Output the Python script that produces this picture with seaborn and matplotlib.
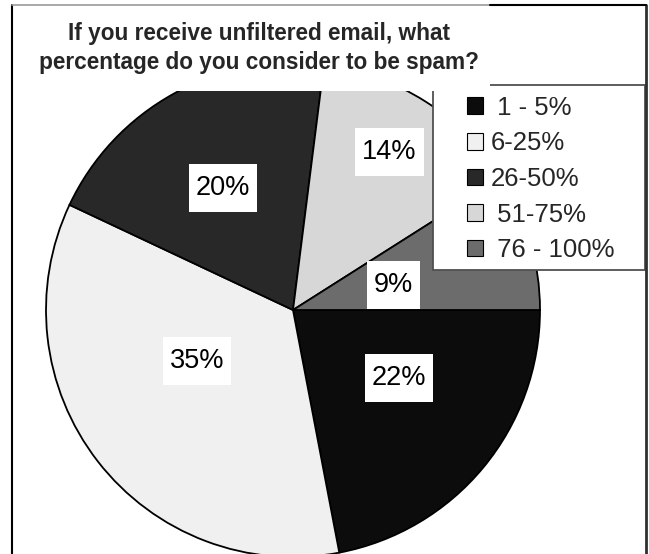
import matplotlib
matplotlib.use("Agg")
import matplotlib.pyplot as plt
from matplotlib.patches import Patch, Rectangle
from matplotlib.lines import Line2D
import numpy as np
import seaborn as sns

# Survey answers: share of unfiltered email considered spam
categories = [" 1 - 5%", "6-25%", "26-50%", " 51-75%", " 76 - 100%"]
shares = [22, 35, 20, 14, 9]
slice_colors = ["#0c0c0c", "#f0f0f0", "#282828", "#d7d7d7", "#6c6c6c"]
title = "If you receive unfiltered email, what\npercentage do you consider to be spam?"

# label placement (radius as fraction of pie radius, angular shift in degrees)
label_radius = [0.51, 0.44, 0.57, 0.75, 0.42]
label_shift = [7.0, -10.0, 1.0, 1.0, -2.5]

sns.set_theme(style="white")
plt.rcParams["font.family"] = ["Liberation Sans", "DejaVu Sans"]

W, H = 649, 554
fig = plt.figure(figsize=(W / 100, H / 100), dpi=100)
fig.patch.set_facecolor("white")

# pie axes: centre (293, 310) px, radius 247 px
cx, cy, R = 293, 310, 247
ax = fig.add_axes([(cx - R) / W, (H - cy - R) / H, 2 * R / W, 2 * R / H])

wedges, _ = ax.pie(
    shares, colors=slice_colors, startangle=0, counterclock=False, radius=1.0,
    wedgeprops=dict(edgecolor="black", linewidth=1.3), center=(0, 0),
)
ax.set_xlim(-1, 1)
ax.set_ylim(-1, 1)
ax.set_aspect("auto")
ax.axis("off")

labels = []
for w, share, r, dth in zip(wedges, shares, label_radius, label_shift):
    mid = np.deg2rad((w.theta1 + w.theta2) / 2 + dth)
    t = ax.text(r * np.cos(mid), r * np.sin(mid), f"{share}%", ha="center", va="center",
                fontsize=19.5, color="black", zorder=5)
    labels.append(t)

# white boxes behind the percentage labels
fig.canvas.draw()
renderer = fig.canvas.get_renderer()
for t in labels:
    bb = t.get_window_extent(renderer)
    padx, pady = 7, 11
    ax.add_patch(Rectangle((bb.x0 - padx, bb.y0 - pady), bb.width + 2 * padx,
                           bb.height + 2 * pady, transform=None, facecolor="white",
                           edgecolor="none", zorder=4))

def fx(px):
    return px / W

def fy(py):
    return 1 - py / H

# legend box
fig.patches.append(Rectangle((fx(433), fy(270)), fx(645) - fx(433), fy(85) - fy(270),
                             transform=fig.transFigure, facecolor="white",
                             edgecolor="#505050", linewidth=1.3, zorder=2))
handles = [Patch(facecolor=c, edgecolor="black", linewidth=0.8) for c in slice_colors]
leg = fig.legend(handles, categories, loc="upper left",
                 bbox_to_anchor=(fx(454), fy(83)), frameon=False, fontsize=18.5,
                 handlelength=0.62, handleheight=0.62, handletextpad=0.3,
                 labelspacing=0.45, borderpad=0.0)
leg.set_zorder(4)

# title area covering the top of the plot
fig.patches.append(Rectangle((fx(12), fy(91)), fx(490) - fx(12), fy(5) - fy(91),
                             transform=fig.transFigure, facecolor="white",
                             edgecolor="none", zorder=3))
fig.text(fx(259), fy(48), title, ha="center", va="center", fontsize=16.3,
         fontweight="bold", linespacing=1.3, zorder=5)

# outer chart frame
fig.lines.append(Line2D([fx(12), fx(12)], [fy(5), 0], transform=fig.transFigure,
                        color="black", linewidth=1.5, zorder=6))
fig.lines.append(Line2D([fx(646), fx(646)], [fy(5), 0], transform=fig.transFigure,
                        color="#303030", linewidth=2, zorder=6))
fig.lines.append(Line2D([fx(12), fx(490)], [fy(5), fy(5)], transform=fig.transFigure,
                        color="#9a9a9a", linewidth=1.2, zorder=6))
fig.lines.append(Line2D([fx(490), fx(646)], [fy(5), fy(5)], transform=fig.transFigure,
                        color="black", linewidth=1.5, zorder=6))

fig.savefig("out.png", dpi=100, facecolor="white")
